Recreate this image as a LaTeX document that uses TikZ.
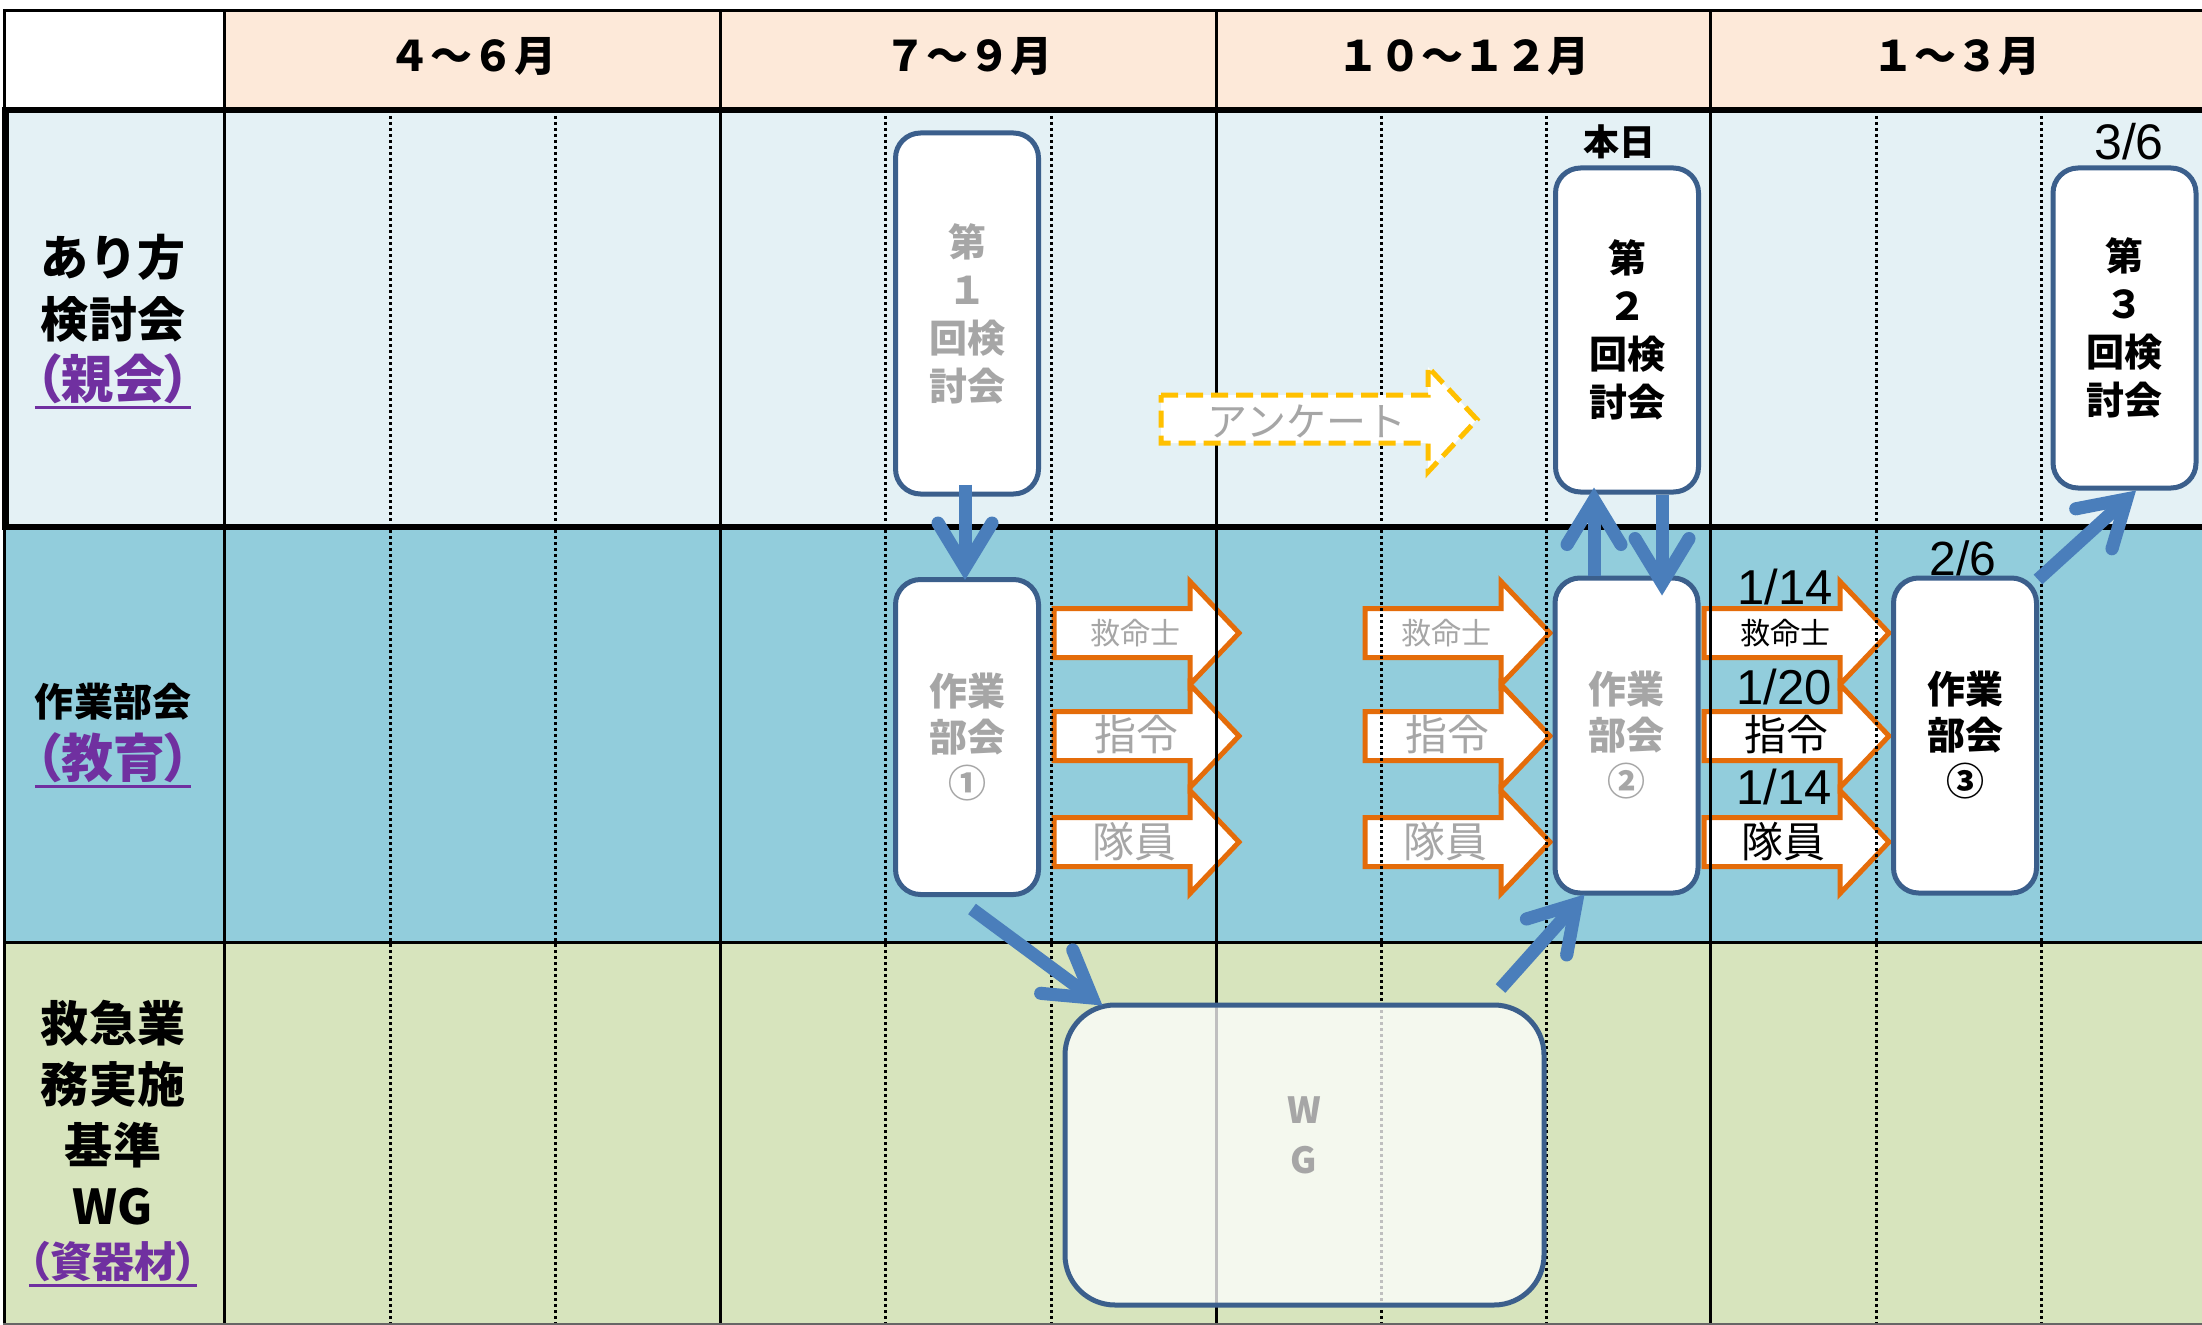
\documentclass[tikz,border=0pt]{standalone}
\usepackage{fontspec}
\usetikzlibrary{calc}
\newfontfamily\jp{Noto Sans CJK JP}
\newfontfamily\jpp{Noto Sans CJK JP}[RawFeature=+palt]
\newfontfamily\ar{Liberation Sans}
\newcommand\fsz[2]{\fontsize{#1bp}{#2bp}\selectfont}
\definecolor{hdr}{HTML}{FDE9D9}
\definecolor{rowa}{HTML}{E4F1F5}
\definecolor{rowb}{HTML}{92CDDC}
\definecolor{rowc}{HTML}{D7E4BD}
\definecolor{bblue}{HTML}{4A7EBB}
\definecolor{bdr}{HTML}{3B5F8C}
\definecolor{org}{HTML}{E46C0A}
\definecolor{yel}{HTML}{FFC000}
\definecolor{gtx}{HTML}{A6A6A6}
\definecolor{purp}{HTML}{7030A0}
\tikzset{
  gridline/.style={line width=3bp, black},
  dotline/.style={line width=3bp, black, dash pattern=on 3bp off 3bp},
  heavyline/.style={line width=6bp, black},
  hdrtxt/.style={font=\jp\bfseries\fsz{42}{48}, inner sep=0pt},
  rowlab/.style={font=\jp\bfseries\fsz{48}{62}, align=center, inner sep=0pt},
  purlab/.style={font=\jpp\bfseries\fsz{52}{58}, text=purp, inner sep=0pt},
  uline/.style={line width=3bp, purp},
  box/.style={draw=bdr, line width=5bp, fill=white, rounded corners=25bp,
    minimum width=143bp, inner sep=0pt, align=center,
    font=\jp\bfseries\fsz{38}{48}},
  bshaft/.style={draw=bblue, line width=13bp, shorten >=16bp},
  bhead/.pic={
    \fill[bblue] (0,0) -- (-53.6,32.6) -- (-60.4,21.4) -- (-25,0)
      -- (-60.4,-21.4) -- (-53.6,-32.6) -- cycle;
    \fill[bblue] (-57,27) circle[radius=6.5bp];
    \fill[bblue] (-57,-27) circle[radius=6.5bp];},
  oarr/.pic={\draw[draw=org, line width=5bp, fill=white, line join=miter]
    (0,-24.5) -- (136,-24.5) -- (136,-51.5) -- (185,0) -- (136,51.5)
    -- (136,24.5) -- (0,24.5) -- cycle;},
  osmall/.style={font=\jp\fsz{30}{36}, inner sep=0pt},
  obig/.style={font=\jp\fsz{42}{50}, inner sep=0pt},
  datelab/.style={font=\ar\fsz{49}{56}, inner sep=0pt},
}
\newcommand\barr[2]{%
  \draw[bshaft] #1 -- #2;
  \path let \p1=#1, \p2=#2, \n1={atan2(\y2-\y1,\x2-\x1)} in
    pic[rotate=\n1] at #2 {bhead};
}
\begin{document}
\begin{tikzpicture}[x=1bp, y=-1bp]
\useasboundingbox (0,0) rectangle (2202,1325);
% backgrounds
\fill[white] (0,0) rectangle (2202,1325);
\fill[white] (4.5,11) rectangle (224.5,110);
\fill[hdr] (224.5,11) rectangle (2202,110);
\fill[rowa] (4.5,110) rectangle (2202,527);
\fill[rowb] (4.5,527) rectangle (2202,942);
\fill[rowc] (4.5,942) rectangle (2202,1325);
% orange block arrows (under the table lines)
\foreach \xo in {1054,1365,1704}{
  \pic at (\xo,633) {oarr};
  \pic at (\xo,736) {oarr};
  \pic at (\xo,842) {oarr};
}
% dotted lines
\foreach \x in {390,555,885,1051,1381,1546,1876,2041}
  \draw[dotline] (\x,110) -- (\x,1325);
% solid lines
\foreach \x in {4.5,224.5,720,1216,1710}
  \draw[gridline] (\x,11) -- (\x,1325);
\draw[gridline] (3,11) -- (2202,11);
\draw[gridline] (3,942) -- (2202,942);
\draw[line width=2bp, black!60] (3,1324) -- (2202,1324);
\draw[heavyline] (2.5,110) -- (2202,110);
\draw[heavyline] (2.5,527) -- (2202,527);
\draw[heavyline] (5.5,107) -- (5.5,530);
% header
\node[hdrtxt] (m1) at (472,56) {４〜６月};
\node[hdrtxt] (m2) at (968,56) {７〜９月};
\node[hdrtxt] (m3) at (1463,56) {１０〜１２月};
\node[hdrtxt] (m4) at (1956,56) {１〜３月};
% row labels
\node[rowlab] (la) at (113,288.5) {あり方\\検討会};
\node[purlab] (lap) at (113,379) {（親会）};
\draw[uline] ([yshift=-9bp]lap.base west) -- ([yshift=-9bp]lap.base east);
\node[rowlab, font=\jp\bfseries\fsz{39}{48}] (lb) at (113,702) {作業部会};
\node[purlab] (lbp) at (113,758) {（教育）};
\draw[uline] ([yshift=-9bp]lbp.base west) -- ([yshift=-9bp]lbp.base east);
\node[rowlab, font=\jp\bfseries\fsz{48}{61}] (lc) at (113,1112.5) {救急業\\務実施\\基準\\WG};
\node[purlab, font=\jpp\bfseries\fsz{42}{48}] (lcp) at (113,1262) {（資器材）};
\draw[uline] ([yshift=-8bp]lcp.base west) -- ([yshift=-8bp]lcp.base east);
% arrow labels
\node[osmall, text=gtx] (a1) at (1135,633) {救命士};
\node[obig, text=gtx] (a2) at (1136,735) {指令};
\node[obig, text=gtx] (a3) at (1134,842) {隊員};
\node[osmall, text=gtx] (b1) at (1446,633) {救命士};
\node[obig, text=gtx] (b2) at (1447,735) {指令};
\node[obig, text=gtx] (b3) at (1445,842) {隊員};
\node[osmall] (c1) at (1785,633) {救命士};
\node[obig] (c2) at (1786,735) {指令};
\node[obig] (c3) at (1783,842) {隊員};
% questionnaire arrow
\draw[draw=yel, line width=5bp, dash pattern=on 17bp off 8bp, fill=white]
  (1161,395) -- (1428,395) -- (1428,367) -- (1477,419.5) -- (1428,472)
  -- (1428,443) -- (1161,443) -- cycle;
\node[font=\jp\fsz{40}{48}, text=gtx, inner sep=0pt] (ank) at (1307,421) {アンケート};
% boxes
\node[box, minimum height=361bp, text=gtx] (k1) at (967,313.5) {第\\１\\回検\\討会};
\node[box, minimum height=324bp] (k2) at (1627,330) {第\\２\\回検\\討会};
\node[box, minimum height=320bp] (k3) at (2124.5,328) {第\\３\\回検\\討会};
\node[box, minimum height=315bp, text=gtx, font=\jp\bfseries\fsz{38}{46}] (s1) at (967,737) {作業\\部会\\①};
\node[box, minimum height=315bp, text=gtx, font=\jp\bfseries\fsz{38}{46}] (s2) at (1626.5,735.5) {作業\\部会\\②};
\node[box, minimum height=315bp, font=\jp\bfseries\fsz{38}{46}] (s3) at (1965,735.5) {作業\\部会\\③};
\node[draw=bdr, line width=5bp, fill=white, fill opacity=0.75, rounded corners=50bp,
  minimum width=479bp, minimum height=300bp] (wg) at (1304.5,1155) {};
\node[font=\jp\bfseries\fsz{36}{50}, text=gtx, align=center, inner sep=0pt] (wgt) at (1304,1135) {W\\G};
% blue arrows
\barr{([shift={(-2bp,12bp)}]k1.south)}{([shift={(-2bp,-3bp)}]s1.north)}
\barr{([shift={(5bp,-12bp)}]s1.south)}{([shift={(40bp,-3bp)}]wg.north west)}
\barr{([shift={(-46bp,14bp)}]wg.north east)}{([shift={(-42bp,1bp)}]s2.south)}
\barr{([xshift=-32.5bp]s2.north)}{([shift={(-33bp,7bp)}]k2.south)}
\barr{([xshift=35bp]k2.south)}{([shift={(35.5bp,-20bp)}]s2.north)}
\barr{([shift={(-1bp,-4bp)}]s3.north east)}{([xshift=11.5bp]k3.south)}
% date labels
\node[font=\jp\bfseries\fsz{36}{42}, inner sep=0pt] (today) at (1619,142) {本日};
\node[font=\ar\fsz{50}{56}, inner sep=0pt] (d36) at (2129,142) {3/6};
\node[font=\ar\fsz{48}{56}, inner sep=0pt] (d26) at (1963,558) {2/6};
\node[datelab] (d1) at (1785,587) {1/14};
\node[datelab] (d2) at (1784,687) {1/20};
\node[datelab] (d3) at (1784,787) {1/14};
\end{tikzpicture}
\end{document}
